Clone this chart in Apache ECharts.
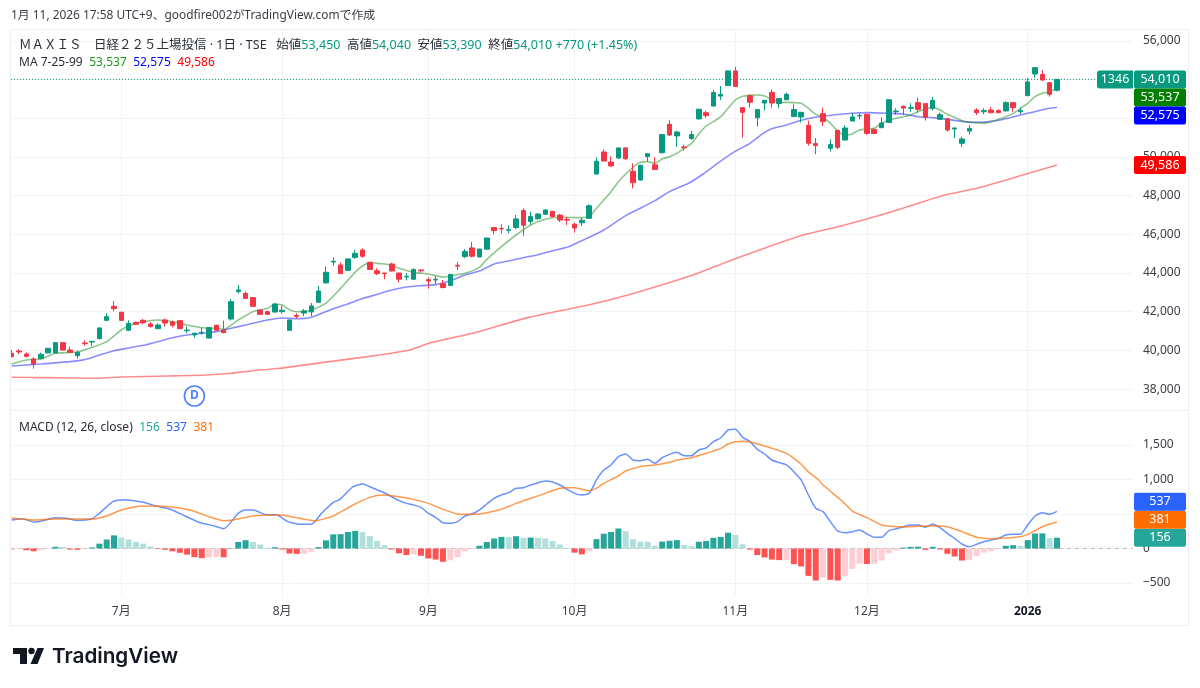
<!DOCTYPE html>
<html><head><meta charset="utf-8">
<style>html,body{margin:0;padding:0;background:#fff}#c{width:1200px;height:688px}</style>
<script src="https://cdn.jsdelivr.net/npm/echarts@6/dist/echarts.min.js"></script>
</head><body><div id="c"></div>
<script>
const monthTicks=[15,37,57,77,99,117,139];
const monthLabels=['7月','8月','9月','10月','11月','12月','2026'];
const priceTicks=[38000,40000,42000,44000,46000,48000,50000,52000,54000,56000];
const macdTicks=[-500,0,500,1000,1500];
const opens=[39850,39970,39815,39560,39575,39870,39870,40400,40020,39730,
40385,40435,40610,41555,42280,41970,41040,41450,41555,41365,
41125,41575,41470,41540,41020,40800,40900,40640,41300,41055,
41625,43040,42950,42730,42090,42005,41985,42005,41040,41800,
41935,41990,42490,43490,44570,44420,44140,44810,45190,44550,
44120,44000,44470,44000,43800,43680,44160,43660,43640,43450,
43360,44400,44850,45300,44830,45230,46350,46310,46210,46350,
47230,46660,46810,47040,47190,47000,46780,46520,46600,46830,
49120,50260,49740,49950,50470,49260,48810,50020,49600,50220,
51690,51090,50520,50960,51970,52290,52640,53150,53690,54450,
52550,53170,52030,52790,53340,52770,52960,52090,52070,51640,
50690,52240,50450,51380,50880,51860,52120,52210,51430,51520,
51790,52340,52620,52520,52810,52760,52520,51950,51980,51450,
50710,51340,52430,52340,52430,52400,52380,52810,52340,53170,
54290,54270,53840,53450];
const closes=[39680,39920,39695,39300,39800,40110,40400,40020,39900,39900,
40350,40470,41160,41745,42160,41555,41400,41350,41435,41230,
41315,41420,41300,41125,41055,40885,40935,41175,41040,40920,
42520,43125,42690,42280,41865,41865,42400,42075,41575,41760,
42040,42300,43070,44040,44610,43970,44730,45020,44870,44190,
43970,43970,44110,43680,43830,44190,44120,43590,43680,43250,
43920,44360,45120,44870,45240,45810,46190,46280,46240,46800,
46470,46920,47050,47260,46920,46740,46740,46330,46730,47480,
49780,49790,49540,50470,49910,48670,49570,50170,49360,51160,
51140,51290,50480,51160,52470,52140,53330,53240,54450,53650,
52310,52830,52450,52930,52790,53020,53240,52450,52310,50710,
50590,51830,50640,50500,51500,52070,52150,51220,51220,51760,
52960,52380,52530,52550,52460,52050,52930,52190,51400,51500,
50930,51480,52290,52400,52290,52290,52810,52550,52400,53880,
54620,53980,53240,54010];
const lows=[39640,39810,39640,39060,39560,39870,39850,40005,39885,39575,
40245,40225,40575,41540,42020,41520,41020,41330,41350,41195,
41110,41230,41195,41110,40885,40660,40815,40625,41020,40885,
41540,42950,42675,42260,41850,41850,41950,41900,41040,41660,
41780,41780,42470,43470,44380,43950,44120,44740,44800,44160,
43900,43680,44070,43520,43620,43660,44020,43190,43430,43210,
43330,44160,44780,44810,44820,45210,46000,46050,46050,46280,
45930,46490,46740,47000,46880,46640,46490,46090,46430,46810,
49090,49780,49500,49910,49850,48380,48780,49760,49330,50190,
51090,50520,50330,50880,51930,52030,52600,52950,53670,53640,
51000,52550,51570,52400,52550,52520,52950,52070,51780,50590,
50140,51600,50280,50400,50860,51840,51950,51150,51210,51480,
51770,52170,52170,52340,52290,51880,52410,51930,51310,50980,
50520,51170,52170,52210,52260,52260,52360,52340,52220,53150,
54100,53950,53120,53390];
const highs=[40020,40070,39900,39645,39885,40110,40435,40420,40195,39990,
40520,40470,41195,41920,42555,42005,41555,41485,41625,41470,
41400,41640,41540,41575,41230,40920,41175,41195,41330,41540,
42660,43380,43055,42745,42105,42055,42435,42295,41575,41920,
42140,42450,43330,44330,44810,44540,44740,45190,45280,44590,
44240,44010,44540,44020,43990,44230,44170,43780,43850,43640,
43950,44590,45240,45610,45260,45830,46370,46520,46470,47000,
47350,47170,47100,47300,47220,47050,46880,46610,46850,47550,
49980,50400,50030,50480,50500,49670,49600,50180,49980,51190,
51900,51360,50640,51340,52480,52400,53460,53670,54470,54670,
52570,53240,52460,52950,53500,53030,53330,52720,52330,51880,
50980,52550,50910,51400,51650,52290,52260,52240,51480,52050,
52980,52520,52670,52780,53070,52790,53100,52290,52020,51520,
51050,51650,52520,52520,52585,52465,52880,52830,52550,54080,
54640,54500,53880,54040];
const ma7=[[0,39300],[2,39505],[4,39560],[6,39850],[9,39920],[11,40160],[13,40455],[15,41055],[16,41280],[18,41490],[20,41575],[22,41490],[24,41315],[26,41175],[28,41140],[29,41090],[31,41575],[33,42005],[35,42175],[36,42385],[37,42350],[38,42100],[39,42000],[40,42020],[41,42090],[43,42450],[45,43210],[47,44050],[48,44365],[49,44554],[50,44500],[52,44417],[53,44244],[55,44037],[57,43951],[59,43796],[60,43848],[62,43986],[64,44296],[65,44710],[67,45364],[69,45967],[71,46485],[73,46777],[75,46900],[77,46864],[79,46915],[80,47346],[81,47777],[82,48208],[83,48725],[84,49121],[85,49466],[86,49725],[87,49759],[88,49673],[89,49897],[90,50017],[91,50190],[92,50448],[93,50707],[94,51189],[95,51603],[96,51827],[97,52085],[98,52516],[99,52947],[100,53137],[101,53188],[102,53206],[103,53154],[104,52982],[105,52826],[106,52826],[107,52809],[108,52775],[109,52516],[110,52206],[111,52051],[112,51741],[113,51344],[114,51120],[115,51189],[116,51396],[117,51448],[118,51482],[119,51741],[120,51913],[121,51999],[122,52085],[123,52172],[124,52344],[125,52482],[126,52551],[127,52430],[128,52206],[129,52051],[130,51879],[131,51792],[132,51775],[133,51741],[134,51827],[135,51947],[136,52085],[137,52258],[138,52516],[139,52775],[140,53119],[141,53292],[142,53378],[143,53537]];
const ma25=[[0,39195],[4,39300],[8,39420],[10,39525],[12,39764],[14,39988],[16,40126],[18,40263],[20,40453],[22,40660],[24,40798],[26,40884],[28,40970],[29,41056],[31,41229],[33,41401],[35,41573],[37,41677],[39,41642],[41,41720],[44,42160],[46,42400],[48,42680],[50,42900],[52,43120],[54,43280],[56,43350],[58,43400],[60,43600],[62,43900],[64,44100],[66,44468],[68,44623],[70,44796],[72,44950],[74,45158],[76,45330],[77,45500],[79,45850],[81,46226],[84,46968],[86,47346],[88,47742],[90,48208],[92.6,48639],[94.6,49121],[96.9,49759],[98.9,50276],[101,50707],[102.8,51224],[103.9,51448],[106,51654],[107.8,51879],[109.9,52051],[112.4,52172],[115,52258],[117,52292],[120,52258],[122,52223],[124,52085],[126,52034],[128,51947],[130,51844],[132,51792],[134,51844],[136,51982],[138,52172],[140,52344],[142,52516],[143,52575]];
const ma99=[[0,38610],[5,38592],[11.6,38558],[15,38626],[21.3,38678],[26.7,38730],[30,38816],[33,38953],[36.7,39076],[43.5,39420],[50.3,39763],[54.4,40022],[57.1,40368],[63.9,40970],[70.7,41710],[78.9,42348],[84.3,42865],[93.2,43900],[97.9,44590],[107.5,45880],[113.6,46450],[120.4,47170],[127.2,47985],[132,48380],[138.8,49120],[143,49586]];
const macdLine=[[0,413],[1.6,432],[3,384],[4.3,403],[6,447],[7.5,437],[9,408],[10.9,427],[12,510],[13.9,683],[15.5,708],[18,669],[19.8,616],[21.6,572],[23.7,471],[25.8,374],[27.6,331],[29,287],[31,510],[31.9,558],[33,558],[34.9,490],[36.2,490],[37.8,389],[39.4,350],[41,350],[42.4,510],[44,669],[44.9,712],[46.7,896],[48,935],[49.5,872],[51.3,790],[53,693],[54,654],[55,630],[56,596],[57,510],[58,452],[59,374],[60,365],[61,389],[62,471],[63,500],[64,558],[65,645],[66,727],[67,775],[68,809],[69,872],[70,881],[71,920],[72,954],[73,978],[74,964],[75,920],[76,857],[77,799],[78,775],[79,799],[80,993],[81,1137],[82,1210],[83,1331],[84,1369],[85,1282],[86,1273],[87,1292],[88,1234],[89,1316],[90,1364],[91,1393],[92,1345],[93,1345],[94,1427],[95,1456],[96,1548],[97,1601],[98,1717],[99,1727],[100,1611],[101,1548],[102,1437],[103,1369],[104,1282],[105,1244],[106,1210],[107,1113],[108,993],[109,775],[110,582],[111,534],[112,389],[113,254],[114,230],[115,244],[116,268],[117,210],[118,162],[119,162],[120,258],[121,287],[122,316],[123,341],[124,341],[125,307],[126,355],[127,302],[128,220],[129,147],[130,65],[131,27],[132,60],[133,99],[134,123],[135,147],[136,196],[137,205],[138,205],[139,341],[140,471],[141,519],[142,495],[143,537]];
const macdSignal=[[0,442],[3,413],[6,427],[11,427],[13,471],[15,558],[18,616],[21.6,606],[24.4,558],[27,461],[29,403],[30.3,413],[33,471],[36.7,485],[39.4,437],[41.5,403],[44,471],[46.7,630],[49,741],[50.8,775],[53,751],[55,712],[57,654],[59,568],[61,500],[63,495],[65,519],[67,568],[69,654],[71,727],[73,799],[75,872],[76,881],[77,881],[79,838],[80,872],[81,944],[83,1051],[84,1123],[86,1186],[88,1210],[90,1249],[91,1282],[93,1316],[95,1379],[97,1451],[98,1514],[99,1548],[100,1553],[101,1543],[103,1485],[105,1418],[106,1379],[107,1307],[108,1220],[109,1110],[110.4,993],[111,920],[113.7,679],[115,543],[117,447],[119,341],[120,326],[122,312],[124,321],[126,331],[128,316],[130,244],[132,162],[134,143],[136,152],[138,171],[139,205],[140,258],[141,316],[142,355],[143,381]];
const macdHist=[-25,-10,-25,-40,-25,-5,25,22,-15,-18,
-5,15,70,130,190,160,130,95,70,30,
-8,-18,-40,-62,-88,-125,-140,-128,-122,-127,
5,95,120,95,58,12,18,-15,-72,-78,
-75,-48,20,118,205,208,240,255,237,180,
110,48,-15,-70,-95,-85,-105,-145,-160,-193,
-170,-125,-40,-5,40,95,145,168,165,178,
155,158,155,145,108,58,5,-60,-85,-40,
135,215,240,290,250,135,100,98,40,100,
112,122,50,35,98,108,155,168,228,195,
62,-15,-95,-130,-160,-168,-165,-227,-261,-396,
-464,-420,-454,-464,-396,-295,-218,-224,-220,-174,
-68,-29,14,24,26,-19,24,-14,-77,-116,
-174,-164,-106,-58,-39,-5,39,48,39,121,
217,219,150,156];
const dividendMarks=[[25,37644]];
const priceBadges=[54010,53537,52575,49586];
const macdBadges=[156,381,537];

const UP='#089981',DOWN='#F23645',GRID='#f2f3f5',FRAME='#eceef1',TXT='#3a3d46';
const latin='"Noto Sans","Noto Sans CJK JP",sans-serif';
const fmt=v=>{const s=Math.abs(v).toLocaleString('en-US');return v<0?'\u2212'+s:s;};
const XMIN=-0.09,XMAX=153.4;
const xAxisBase=(gi,show)=>({type:'value',gridIndex:gi,min:XMIN,max:XMAX,
  axisLine:{show:false},
  axisTick:{show:false,customValues:monthTicks},
  splitLine:{show:true,lineStyle:{color:GRID,width:1}},
  axisLabel:{show,customValues:monthTicks,margin:10,color:TXT,fontFamily:latin,fontSize:12,hideOverlap:false,
    formatter:v=>{const t=monthLabels[monthTicks.indexOf(v)];return t==='2026'?'{b|'+t+'}':t;},
    rich:{b:{fontWeight:'bold',fontSize:12,color:'#131722',fontFamily:latin}}}});
const yAxisBase=(gi,min,max,ticks)=>({type:'value',gridIndex:gi,position:'right',min,max,scale:true,
  axisLine:{show:false},
  axisTick:{show:false,customValues:ticks},
  splitLine:{show:true,lineStyle:{color:GRID,width:1}},
  axisLabel:{customValues:ticks,margin:10,padding:[2,0,0,0],color:TXT,fontFamily:latin,fontSize:12,formatter:fmt,hideOverlap:false}});

function badgeSeries(name,gi,values,colors,dir,extra){
  let prev=null;
  return {type:'custom',name,xAxisIndex:gi,yAxisIndex:gi,coordinateSystem:'cartesian2d',z:20,silent:true,clip:false,
    data:values.map(v=>[0,v]),encode:{x:0,y:1},
    renderItem(p,api){
      const h=18,w=52,c=p.coordSys;
      let y=api.coord([0,api.value(1)])[1];
      if(p.dataIndex===0) prev=null;
      if(prev!==null){ if(dir>0&&y<prev+h) y=prev+h; if(dir<0&&y>prev-h) y=prev-h; }
      prev=y;
      const x=c.x+c.width+1, col=colors[p.dataIndex];
      const kids=[
        {type:'rect',shape:{x,y:y-h/2,width:w,height:h,r:2},style:{fill:col}},
        {type:'text',x:x+w/2,y,style:{text:fmt(api.value(1)),fill:'#fff',font:'12.5px '+latin,align:'center',verticalAlign:'middle'}}];
      if(extra&&p.dataIndex===0){
        kids.unshift({type:'rect',shape:{x:x-37,y:y-h/2,width:36,height:h,r:[3,0,0,3]},style:{fill:col}});
        kids.push({type:'text',x:x-19,y,style:{text:extra,fill:'#fff',font:'12.5px '+latin,align:'center',verticalAlign:'middle'}});
      }
      return {type:'group',children:kids};
    }};
}

const candleData=opens.map((o,i)=>[i,o,closes[i],lows[i],highs[i]]);
const histData=macdHist.map((v,i)=>{
  const p=i?macdHist[i-1]:v;
  const c=v>=0?(v>p?'#26a69a':'#b2dfdb'):(v<p?'#ff5252':'#ffcdd2');
  return {value:[i,v],itemStyle:{color:c}};
});
const line=(name,gi,data,color,width,z)=>({type:'line',name,xAxisIndex:gi,yAxisIndex:gi,data,showSymbol:false,smooth:0.2,z:z||3,silent:true,
  lineStyle:{color,width}});
const lastClose=closes[closes.length-1];

const t=(x,y,text,rich,extra)=>({type:'text',x,y,z:30,silent:true,style:Object.assign({text,rich,font:'12.5px '+latin,fill:'#131722',verticalAlign:'middle'},extra||{})});
const rs=(fill,fontSize)=>({fontSize:fontSize||12.5,fontFamily:latin,fill});
const rich1={a:rs('#2a2e39'),g:rs('#089981')};
const rich2={a:rs('#2a2e39',12),g:rs('#1f9a1f',12),b:rs('#0000ff',12),r:rs('#ff0000',12)};
const rich3={a:rs('#2a2e39',12),g:rs('#26a69a',12),b:rs('#2962ff',12),o:rs('#ff6d00',12)};

const chart=echarts.init(document.getElementById('c'),null,{renderer:'canvas'});
chart.setOption({
  animation:false,backgroundColor:'#fff',
  grid:[{left:11,top:30,width:1122,height:380},{left:11,top:411,width:1122,height:185}],
  xAxis:[xAxisBase(0,false),xAxisBase(1,true)],
  yAxis:[yAxisBase(0,36920,56566,priceTicks),yAxisBase(1,-688,1992,macdTicks)],
  series:[
    {type:'line',name:'lastPrice',xAxisIndex:0,yAxisIndex:0,data:[[XMIN,lastClose],[XMAX,lastClose]],showSymbol:false,z:2,silent:true,
      lineStyle:{type:[1,2],color:'#089981',width:1}},
    line('MA99',0,ma99,'rgba(255,0,0,0.45)',1.6),
    line('MA25',0,ma25,'rgba(0,0,255,0.45)',1.6),
    line('MA7',0,ma7,'rgba(0,128,0,0.45)',1.6),
    {type:'candlestick',name:'MAXIS',xAxisIndex:0,yAxisIndex:0,data:candleData,barWidth:5,z:5,silent:true,
      encode:{x:0,y:[1,2,3,4]},
      itemStyle:{color:UP,color0:DOWN,borderColor:UP,borderColor0:DOWN,borderWidth:1}},
    {type:'scatter',name:'D',xAxisIndex:0,yAxisIndex:0,data:dividendMarks,symbol:'circle',symbolSize:20,z:6,silent:true,
      itemStyle:{color:'#fff',borderColor:'#2962ff',borderWidth:1.6},
      label:{show:true,position:'inside',formatter:'D',color:'#2962ff',fontFamily:latin,fontSize:12,fontWeight:'bold'}},
    {type:'bar',name:'Histogram',xAxisIndex:1,yAxisIndex:1,data:histData,barWidth:6,z:2,silent:true,
      markLine:{silent:true,symbol:'none',z:1,label:{show:false},data:[{yAxis:0}],
        lineStyle:{type:[4,4],color:'rgba(120,123,134,0.45)',width:1}}},
    line('MACD',1,macdLine,'rgba(41,98,255,0.7)',1.5,4),
    line('Signal',1,macdSignal,'rgba(255,109,0,0.7)',1.5,4),
    badgeSeries('priceBadges',0,priceBadges,['#089981','#008000','#0000ff','#ff0000'],1,'1346'),
    badgeSeries('macdBadges',1,macdBadges,['#26a69a','#ff6d00','#2962ff'],-1)
  ],
  graphic:[
    {type:'rect',z:25,silent:true,shape:{x:0,y:29,width:10.5,height:568},style:{fill:'#fff'}},
    {type:'rect',z:26,silent:true,shape:{x:10.5,y:29.5,width:1178,height:596},style:{fill:'none',stroke:FRAME,lineWidth:1}},
    {type:'line',z:26,silent:true,shape:{x1:11,y1:410.5,x2:1189,y2:410.5},style:{stroke:FRAME,lineWidth:1}},
    t(11,16,'1月 11, 2026 17:58 UTC+9、goodfire002がTradingView.comで作成',null,{fill:'#3a3d46',font:'11.9px '+latin}),
    t(19,45.5,'{a|ＭＡＸＩＳ　日経２２５上場投信 · 1日 · TSE}   {a|始値}{g|53,450}  {a|高値}{g|54,040}  {a|安値}{g|53,390}  {a|終値}{g|54,010} {g|+770 (+1.45%)}',rich1),
    t(19,62.5,'{a|MA 7-25-99}  {g|53,537}  {b|52,575}  {r|49,586}',rich2),
    t(19,427.5,'{a|MACD (12, 26, close)}  {g|156}  {b|537}  {o|381}',rich3),
    {type:'polygon',z:30,silent:true,shape:{points:[[13,648],[27,648],[27,664],[20,664],[20,654],[13,654]]},style:{fill:'#131722'}},
    {type:'circle',z:30,silent:true,shape:{cx:31.5,cy:651,r:3.2},style:{fill:'#131722'}},
    {type:'polygon',z:30,silent:true,shape:{points:[[37.5,648],[44,648],[37.5,664],[30.5,664]]},style:{fill:'#131722'}},
    {type:'text',x:52,y:657,z:30,silent:true,style:{text:'TradingView',font:'600 20.7px Inter,sans-serif',fill:'#131722',verticalAlign:'middle'}}
  ]
});
</script></body></html>
